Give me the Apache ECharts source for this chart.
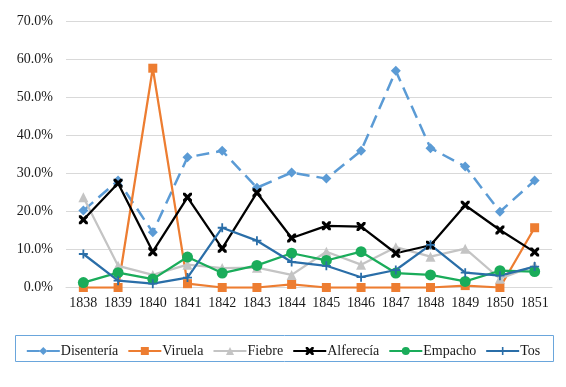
<!DOCTYPE html>
<html><head><meta charset="utf-8">
<script src="https://cdn.jsdelivr.net/npm/echarts@6/dist/echarts.min.js"></script>
<style>html,body{margin:0;padding:0;background:#fff}#c{width:566px;height:387px}</style>
</head><body><div id="c"></div>
<script>
const years = ['1838','1839','1840','1841','1842','1843','1844','1845','1846','1847','1848','1849','1850','1851'];
const disenteria = [20.2,28.1,14.5,34.2,35.9,26.2,30.2,28.6,35.9,56.9,36.6,31.8,19.9,28.1];
const viruela = [0,0,57.6,1.0,0,0,0.8,0,0,0,0,0.5,0,15.7];
const fiebre = [23.7,5.7,3.3,6.0,5.1,5.2,3.3,9.4,6.0,10.6,8.1,10.2,2.3,5.7];
const alferecia = [17.8,27.4,9.4,23.7,10.3,24.9,13.0,16.2,16.0,9.0,11.1,21.6,15.1,9.3];
const empacho = [1.3,3.9,2.2,8.0,3.8,5.8,9.0,7.1,9.4,3.8,3.3,1.6,4.4,4.2];
const tos = [8.8,1.8,1.0,2.6,15.7,12.3,6.7,5.7,2.7,4.6,11.2,3.9,3.1,5.5];

const FONT = 'Liberation Serif';
const xSym = 'path://M0,0 L2.5,0 L5,2.5 L7.5,0 L10,0 L10,2.5 L7.5,5 L10,7.5 L10,10 L7.5,10 L5,7.5 L2.5,10 L0,10 L0,7.5 L2.5,5 L0,2.5 Z';
const plusSym = 'path://M4,0 H6 V4 H10 V6 H6 V10 H4 V6 H0 V4 H4 Z';

function mk(name, data, color, symbol, size, extra) {
  return Object.assign({
    name, type: 'line', data, symbol, symbolSize: size,
    itemStyle: { color },
    lineStyle: { color, width: 2.25 },
    emphasis: { disabled: true },
    animation: false
  }, extra || {});
}

const chart = echarts.init(document.getElementById('c'), null, { renderer: 'canvas' });
chart.setOption({
  animation: false,
  grid: { left: 66, right: 14, top: 21, bottom: 99.5, containLabel: false },
  graphic: [{
    type: 'rect', shape: { x: 15.5, y: 335.5, width: 538, height: 26 },
    style: { fill: 'none', stroke: '#6aa6dc', lineWidth: 1 }, silent: true
  }],
  legend: {
    top: 339, left: 'center', itemWidth: 33, itemHeight: 10, itemGap: 9,
    textStyle: { fontFamily: FONT, fontSize: 14, color: '#1a1a1a', padding: [0,0,0,-4] },
    data: ['Disentería','Viruela','Fiebre','Alferecía','Empacho','Tos']
  },
  xAxis: {
    type: 'category', data: years, boundaryGap: true,
    axisLine: { lineStyle: { color: '#d9d9d9' } },
    axisTick: { show: false },
    axisLabel: { fontFamily: FONT, fontSize: 14, color: '#1a1a1a', margin: 9, interval: 0 }
  },
  yAxis: {
    type: 'value', min: 0, max: 70, interval: 10,
    axisLine: { show: false }, axisTick: { show: false },
    splitLine: { lineStyle: { color: '#d9d9d9', width: 1 } },
    axisLabel: { fontFamily: FONT, fontSize: 14, color: '#1a1a1a', margin: 13,
      formatter: v => v.toFixed(1) + '%' }
  },
  series: [
    mk('Disentería', disenteria, '#5b9bd5', 'diamond', 10, { lineStyle: { color: '#5b9bd5', width: 2.5, type: [13, 7] } }),
    mk('Viruela', viruela, '#ed7d31', 'rect', 9),
    mk('Fiebre', fiebre, '#c4c4c4', 'triangle', 10),
    mk('Alferecía', alferecia, '#000000', xSym, 9),
    mk('Empacho', empacho, '#1aac5a', 'circle', 11),
    mk('Tos', tos, '#2a6ea8', plusSym, 9)
  ]
});
</script></body></html>
